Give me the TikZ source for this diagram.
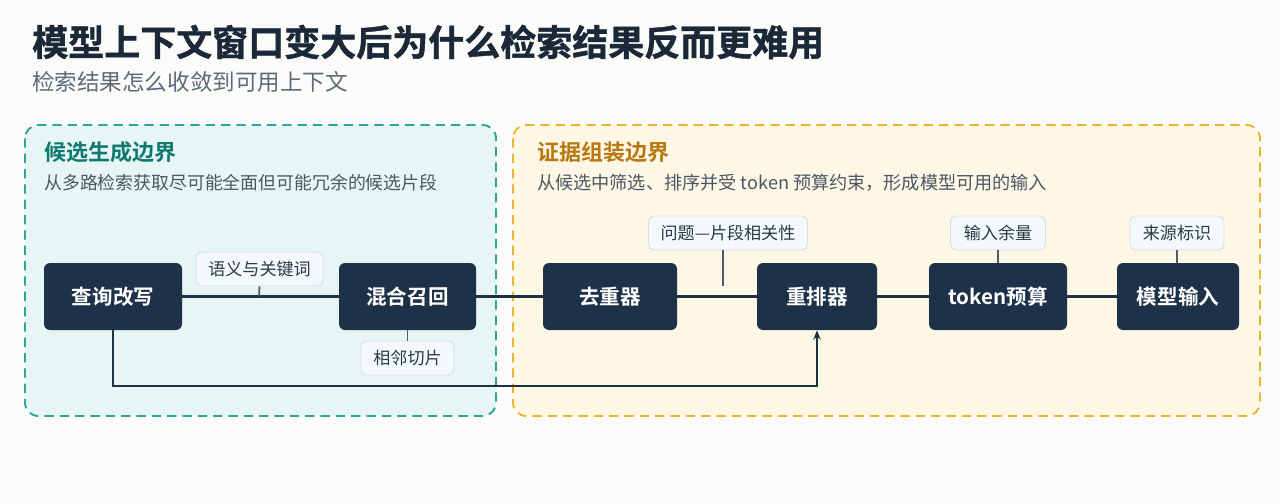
\documentclass[tikz,border=0pt]{standalone}
\usepackage{fontspec}
\setmainfont{Noto Sans CJK SC}[BoldFont={Noto Sans CJK SC Bold}]
\newfontfamily\heavyfont{Noto Sans CJK SC Bold}[FakeBold=1.2]
\usetikzlibrary{arrows.meta}
\definecolor{bgc}{HTML}{FBFBF9}
\definecolor{titlec}{HTML}{1A2838}
\definecolor{subc}{HTML}{5B6B7A}
\definecolor{tealb}{HTML}{2BA59E}
\definecolor{tealf}{HTML}{E7F5F5}
\definecolor{tealt}{HTML}{0E7A6F}
\definecolor{goldb}{HTML}{E9B52A}
\definecolor{goldf}{HTML}{FFF7E6}
\definecolor{goldt}{HTML}{B8780F}
\definecolor{nodef}{HTML}{1D3249}
\definecolor{labf}{HTML}{F3F8FA}
\definecolor{labb}{HTML}{D5DEE3}
\definecolor{labt}{HTML}{2B3A48}
\definecolor{psub}{HTML}{4A5866}
\definecolor{conc}{HTML}{4B5B6B}
\begin{document}
\begin{tikzpicture}[x=0.75pt,y=-0.75pt,
  panel/.style={dashed,dash pattern=on 7pt off 4.5pt,line width=1.4pt,rounded corners=10pt},
  mainbox/.style={fill=nodef,draw=none,rounded corners=4.5pt,minimum height=50.25pt,text=white,font=\bfseries\fontsize{15.4pt}{18pt}\selectfont,inner sep=0pt},
  labbox/.style={fill=labf,draw=labb,line width=0.6pt,rounded corners=4pt,minimum height=25.5pt,text=labt,font=\fontsize{12.8pt}{15pt}\selectfont,inner sep=0pt},
  mainline/.style={draw=nodef,line width=2.1pt},
  conline/.style={draw=conc,line width=1.3pt}]
\useasboundingbox[fill=bgc] (0,0) rectangle (1280,503);
% title
\node[anchor=west,text=titlec,font=\heavyfont\fontsize{27pt}{32pt}\selectfont,inner sep=0pt] (title) at (32,42) {模型上下文窗口变大后为什么检索结果反而更难用};
\node[anchor=west,text=subc,font=\fontsize{16.9pt}{21pt}\selectfont,inner sep=0pt] (subtitle) at (32,82) {检索结果怎么收敛到可用上下文};
% panels
\draw[panel,draw=tealb,fill=tealf] (25,125) rectangle (496,416);
\draw[panel,draw=goldb,fill=goldf] (513,125) rectangle (1260,416);
\node[anchor=west,text=tealt,font=\bfseries\fontsize{16.5pt}{20pt}\selectfont,inner sep=0pt] (lpt) at (44,152) {候选生成边界};
\node[anchor=west,text=psub,font=\fontsize{13.4pt}{17pt}\selectfont,inner sep=0pt] (lps) at (44,183) {从多路检索获取尽可能全面但可能冗余的候选片段};
\node[anchor=west,text=goldt,font=\bfseries\fontsize{16.5pt}{20pt}\selectfont,inner sep=0pt] (rpt) at (537,152) {证据组装边界};
\node[anchor=west,text=psub,font=\fontsize{13.6pt}{17pt}\selectfont,inner sep=0pt] (rps) at (537,183) {从候选中筛选、排序并受 token 预算约束，形成模型可用的输入};
% main nodes
\node[mainbox,minimum width=103.5pt] (q) at (113,296.5) {查询改写};
\node[mainbox,minimum width=102.75pt] (h) at (407.5,296.5) {混合召回};
\node[mainbox,minimum width=100.5pt] (d) at (610,296.5) {去重器};
\node[mainbox,minimum width=90pt] (r) at (817,296.5) {重排器};
\node[mainbox,minimum width=103.5pt] (t) at (998,296.5) {token预算};
\node[mainbox,minimum width=91.5pt] (m) at (1178,296.5) {模型输入};
% main line
\draw[mainline] (q) -- (h);
\draw[mainline] (h) -- (d);
\draw[mainline] (d) -- (r);
\draw[mainline] (r) -- (t);
\draw[mainline] (t) -- (m);
% loop
\coordinate (loopy) at (0,386);
\draw[mainline,-{Stealth[length=7pt,width=5.5pt]}] (q.south) -- (q.south |- loopy) -| (r.south);
% labels
\node[labbox,minimum width=95.25pt] (l1) at (259.5,269) {语义与关键词};
\node[labbox,minimum width=69.75pt] (l2) at (407.5,358) {相邻切片};
\node[labbox,minimum width=119.25pt] (l3) at (728,233) {问题—片段相关性};
\node[labbox,minimum width=71.25pt] (l4) at (998,233) {输入余量};
\node[labbox,minimum width=70.5pt] (l5) at (1177,233) {来源标识};
\coordinate (c1) at (259,296.5);
\draw[conline] (l1.south) -- (c1);
\draw[conline] (h.south) -- (l2.north);
\coordinate (c3) at (723,286);
\draw[conline] (l3.south -| c3) -- (c3);
\draw[conline] (l4.south) -- (t.north);
\draw[conline] (l5.south) -- (l5.south |- m.north);
\end{tikzpicture}
\end{document}
